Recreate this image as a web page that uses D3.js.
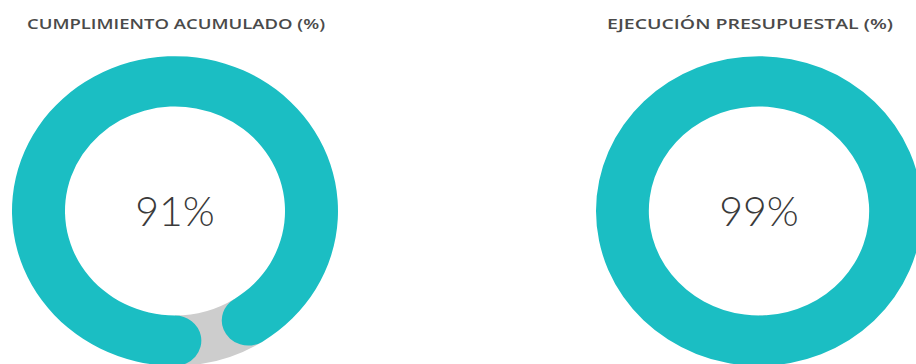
<!DOCTYPE html>
<html>
<head>
<meta charset="utf-8">
<script src="https://cdn.jsdelivr.net/npm/d3@7"></script>
<style>
  body { margin: 0; background: #fff; }
  svg { display: block; }
</style>
</head>
<body>
<svg id="chart" width="916" height="364"></svg>
<script>
// data
const titles = ['CUMPLIMIENTO ACUMULADO (%)', 'EJECUCIÓN PRESUPUESTAL (%)'];
const values = [91, 99];
const labels = ['91%', '99%'];

const width = 916, height = 364;
const centersX = [175, 759];
const centerY = 211;
const titleWidths = [298, 286];
const titleX = [176, 750];
const outerR = 163, innerR = 110;
const squash = 0.95;
const teal = '#1bbec3', grey = '#cdcdcd';

const svg = d3.select('#chart');

const pie = d3.pie()
    .sort(null)
    .startAngle(Math.PI)
    .endAngle(Math.PI * 3);

const thick = outerR - innerR;
const capAngle = (thick / 2) / ((outerR + innerR) / 2);

const greyArc = d3.arc().innerRadius(innerR).outerRadius(outerR);
const tealArc = d3.arc()
    .innerRadius(innerR)
    .outerRadius(outerR)
    .cornerRadius(thick / 2);

values.forEach((v, i) => {
    const slices = pie([v, 100 - v]);

    svg.append('text')
        .attr('x', titleX[i])
        .attr('y', 29)
        .attr('text-anchor', 'middle')
        .attr('font-family', '"Open Sans", sans-serif')
        .attr('font-weight', 600)
        .attr('font-size', 15)
        .attr('fill', '#4a4a4a')
        .attr('textLength', titleWidths[i])
        .attr('lengthAdjust', 'spacingAndGlyphs')
        .text(titles[i]);

    const g = svg.append('g')
        .attr('transform', `translate(${centersX[i]},${centerY}) scale(1,${squash})`);

    // remaining part, drawn as a plain ring slice
    g.append('path')
        .attr('d', greyArc(slices[1]))
        .attr('fill', grey);

    // achieved part with round ends that run over the grey
    const s = slices[0];
    g.append('path')
        .attr('d', tealArc({
            startAngle: s.startAngle - capAngle,
            endAngle: s.endAngle + capAngle
        }))
        .attr('fill', teal);

    svg.append('text')
        .attr('x', centersX[i])
        .attr('y', centerY + 15)
        .attr('text-anchor', 'middle')
        .attr('font-family', 'Lato, sans-serif')
        .attr('font-weight', 300)
        .attr('font-size', 41)
        .attr('fill', '#3a3a3a')
        .text(labels[i]);
});
</script>
</body>
</html>
